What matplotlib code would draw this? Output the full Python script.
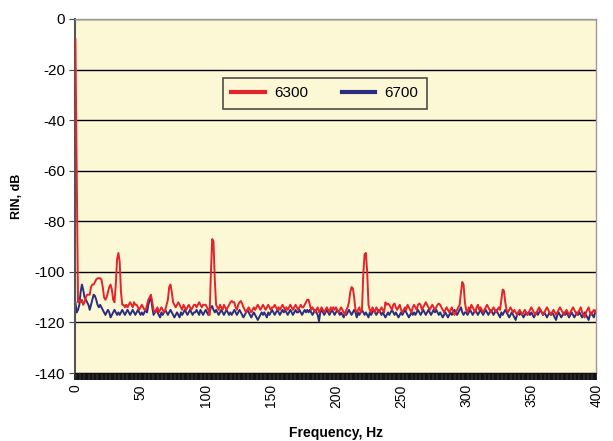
import matplotlib
matplotlib.use("Agg")
import matplotlib.pyplot as plt
import numpy as np

# frequency axis, 1 Hz steps
freq = list(range(0, 401))

# RIN, dB for laser 6300
rin_6300 = [
    -8, -60, -112, -111, -112, -111, -113, -112, -110, -109, -109, -109, -106, -105, -105, -104, -103, -102.5, -102.5, -102.5,
    -103, -106, -110, -111, -110, -108, -106, -105, -107, -111, -112, -105, -95, -92.5, -96, -108, -113, -113, -114, -113,
    -114, -113, -112, -113, -114, -112, -113, -113, -114, -115, -114, -113, -114, -115, -115, -113, -111, -110, -109, -112,
    -115, -116, -115, -114, -116, -115, -114, -115, -116, -115, -113, -111, -106, -105, -108, -112, -113, -114, -113, -112,
    -113, -114, -115, -113, -114, -115, -114, -113, -114, -115, -114, -113, -113, -114, -113, -112, -113, -114, -113, -113,
    -113, -114, -115, -117, -101, -87, -88, -103, -113, -114, -115, -113, -114, -115, -113, -114, -115, -114, -113, -112,
    -111.5, -112, -112, -114, -115, -113, -112, -111.5, -112.5, -114, -115, -116, -115, -114, -115, -116, -115, -114, -115, -114,
    -113, -114, -115, -114, -113, -114, -115, -114, -113, -114, -115, -114, -114, -113, -114, -115, -114, -115, -114, -113,
    -114, -115, -114, -115, -114, -113, -114, -115, -114, -113, -114, -115, -114, -113, -114, -114, -113, -112, -111, -111,
    -113, -115, -114, -115, -116, -115, -114, -116, -115, -114, -115, -116, -115, -114, -115, -116, -114, -115, -114, -115,
    -114, -115, -116, -115, -114, -115, -116, -117, -115, -114, -112, -108, -106, -106.5, -110, -115, -116, -115, -114, -116,
    -115, -101, -93, -92.5, -100, -113, -115, -116, -114, -115, -116, -114, -115, -116, -115, -114, -115, -116, -112, -113,
    -112.5, -113, -114, -115, -113, -112.5, -114, -115, -114, -113, -115, -116, -115, -114, -115, -113, -114, -115, -116, -114,
    -113, -114, -115, -113, -112.5, -113, -115, -114, -113, -112, -113, -114, -115, -114, -113, -114, -115, -114, -113, -112.5,
    -113, -114, -115, -116, -115, -114, -115, -116, -115, -114, -116, -117, -116, -115, -114, -113, -108, -104, -105, -112,
    -115, -116, -114, -115, -113, -114, -115, -116, -114, -113, -115, -114, -115, -116, -115, -114, -113, -114, -115, -116,
    -115, -114, -115, -116, -115, -114, -115, -111, -107, -107.5, -112, -115, -116, -115, -114, -115, -116, -115, -116, -117,
    -116, -115, -116, -117, -116, -115, -116, -117, -116, -115, -114, -115, -116, -117, -116, -115, -114, -115, -116, -117,
    -116, -115, -114, -115, -116, -117, -116, -115, -116, -117, -116, -115, -114, -115, -116, -117, -116, -115, -116, -117,
    -116, -115, -114, -115, -116, -117, -116, -115, -114, -116, -117, -118, -116, -115, -114, -116, -117, -116, -115, -116,
    -115,
]

# RIN, dB for laser 6700
rin_6700 = [
    -112, -116, -115, -113, -108, -105, -107, -110, -111, -112, -113, -115, -113, -111, -109, -109.5, -111, -113, -114, -113,
    -114, -115, -116, -117, -116, -115, -116, -118, -117, -116, -115, -116, -117, -116, -117, -116, -115, -116, -117, -116,
    -115, -116, -117, -116, -115, -116, -117, -116, -115, -116, -117, -116, -117, -116, -115, -116, -113, -111, -110, -114,
    -117, -116, -115, -116, -117, -118, -116, -117, -116, -115, -116, -117, -116, -115, -116, -117, -118, -117, -116, -117,
    -118, -116, -117, -116, -115, -116, -117, -116, -115, -116, -117, -116, -116, -115, -116, -117, -115, -116, -117, -116,
    -115, -116, -117, -116, -114, -113.5, -115, -116, -115, -116, -117, -116, -115, -116, -117, -116, -115, -116, -117, -116,
    -117, -116, -115, -116, -117, -116, -115, -116, -117, -118, -117, -116, -115, -116, -117, -118, -117, -116, -117, -118,
    -119, -118, -117, -116, -117, -116, -117, -118, -116, -117, -116, -115, -116, -117, -116, -115, -116, -117, -116, -115,
    -116, -115, -116, -117, -116, -115, -116, -117, -116, -115, -116, -116, -115, -116, -117, -116, -115, -116, -115, -116,
    -115, -116, -117, -116, -115, -116, -117, -119.5, -116, -115, -116, -117, -116, -115, -116, -117, -116, -115, -116, -117,
    -116, -115, -116, -117, -116, -117, -118, -116, -117, -116, -115, -116, -117, -116, -115, -116, -118, -116, -117, -116,
    -115, -116, -117, -116, -117, -118, -116, -117, -116, -115, -116, -117, -116, -115, -116, -117, -116, -117, -118, -117,
    -116, -117, -116, -115, -116, -117, -116, -117, -118, -117, -116, -117, -116, -115, -116, -117, -118, -117, -116, -117,
    -116, -117, -116, -115, -116, -117, -116, -115, -116, -117, -116, -115, -116, -117, -116, -115, -116, -115, -116, -117,
    -116, -117, -118, -117, -116, -117, -118, -117, -116, -117, -116, -115, -116, -117, -116, -115, -114, -116, -117, -116,
    -116, -117, -116, -115, -116, -117, -116, -115, -116, -117, -116, -115, -116, -117, -116, -115, -116, -117, -116, -115,
    -116, -117, -116, -115, -116, -117, -118, -116, -117, -116, -115, -116, -117, -118, -117, -116, -117, -118, -119, -117,
    -116, -117, -116, -117, -118, -117, -116, -117, -116, -117, -116, -117, -118, -117, -116, -117, -116, -115, -116, -117,
    -116, -117, -118, -117, -116, -117, -116, -117, -118, -119, -117, -116, -117, -118, -117, -116, -117, -116, -117, -118,
    -117, -116, -117, -118, -117, -116, -117, -116, -117, -118, -117, -116, -117, -118, -119, -117, -116, -117, -118, -116,
    -116,
]

x_ticks = [0, 50, 100, 150, 200, 250, 300, 350, 400]
y_ticks = [0, -20, -40, -60, -80, -100, -120, -140]

plt.rcParams['font.family'] = ['Liberation Sans Narrow', 'DejaVu Sans Condensed', 'Liberation Sans', 'DejaVu Sans']

fig = plt.figure(figsize=(6.13, 4.41), dpi=100)
ax = fig.add_axes([0.123, 0.154, 0.850, 0.803])
ax.set_facecolor('#FCF8D6')

ax.plot(freq, rin_6300, color='#E5232B', lw=1.4, label='6300', zorder=3)
ax.plot(freq, rin_6700, color='#2A2E80', lw=1.4, label='6700', zorder=2)

ax.set_xlim(0, 400)
ax.set_ylim(-140, 0)
ax.set_yticks(y_ticks)
ax.set_yticklabels([str(v) for v in y_ticks], fontsize=11)
ax.set_xticks(x_ticks)
ax.set_xticklabels([str(v) for v in x_ticks], rotation=90, fontsize=10)
ax.set_xticks(freq, minor=True)
ax.tick_params(axis='x', which='both', direction='out', length=5, width=1.3, color='#111111', pad=3)
ax.tick_params(axis='y', direction='out', length=4, width=0.8, color='#444444')

ax.grid(axis='y', color='black', lw=1)
ax.set_axisbelow(True)

for side in ['top', 'right']:
    ax.spines[side].set_color('#9A9A9A')
    ax.spines[side].set_linewidth(1)
ax.spines['left'].set_color('#555555')
ax.spines['left'].set_linewidth(1.5)
ax.spines['bottom'].set_color('#111111')

ax.set_ylabel('RIN, dB', fontsize=9, fontweight='bold', labelpad=8)
ax.set_xlabel('Frequency, Hz', fontsize=10, fontweight='bold', labelpad=13)

leg = ax.legend(loc='center', bbox_to_anchor=(0.53, 0.788), bbox_transform=fig.transFigure,
                ncol=2, frameon=True, fancybox=False, fontsize=11, handlelength=2.2,
                columnspacing=2.2, borderpad=0.55, handletextpad=0.6)
leg.get_frame().set_edgecolor('#222222')
leg.get_frame().set_facecolor('#FCF8D6')
leg.get_frame().set_linewidth(1.2)
for line in leg.get_lines():
    line.set_linewidth(3)

fig.savefig('out.png', dpi=100)
